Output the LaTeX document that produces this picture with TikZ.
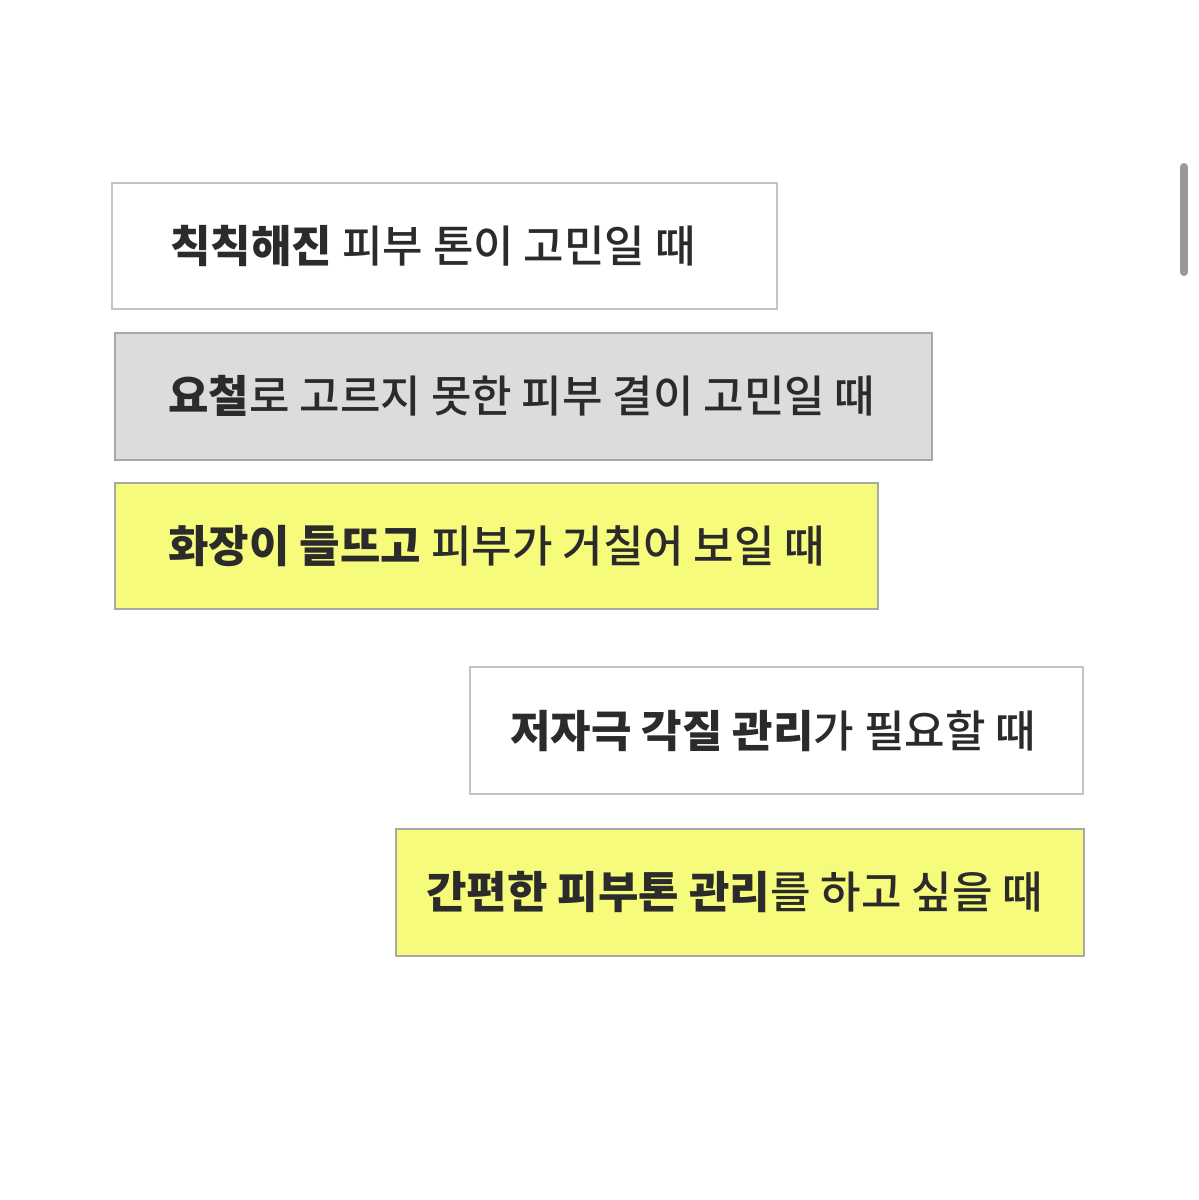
\documentclass[tikz,border=0pt]{standalone}
\usepackage{fontspec}
\newfontfamily\kr{Noto Sans CJK KR Medium}
\newfontfamily\krb{Noto Sans CJK KR Black}
\definecolor{bord}{HTML}{C4C4C4}
\definecolor{gbox}{HTML}{DCDCDC}
\definecolor{gbord}{HTML}{A8A8A8}
\definecolor{ybox}{HTML}{F6FB7C}
\definecolor{txt}{HTML}{2B2B2B}
\begin{document}
\begin{tikzpicture}[x=0.5pt,y=-0.5pt,
  boxw/.style={draw=bord,line width=1pt,fill=white},
  boxg/.style={draw=gbord,line width=1pt,fill=gbox},
  boxy/.style={draw=gbord,line width=1pt,fill=ybox},
  lbl/.style={anchor=west,inner sep=0pt,text=txt,font=\kr\fontsize{22}{26}\selectfont}]
\useasboundingbox[fill=white] (0,0) rectangle (1199,1200);
\draw[boxw] (112,183) rectangle (777,309);
\draw[boxg] (115,333) rectangle (932,460);
\draw[boxy] (115,483) rectangle (878,609);
\draw[boxw] (470,667) rectangle (1083,794);
\draw[boxy] (396,829) rectangle (1084,956);
\node[lbl] (t1) at (170,246) {{\krb 칙칙해진} 피부 톤이 고민일 때};
\node[lbl] (t2) at (168,396) {{\krb 요철}로 고르지 못한 피부 결이 고민일 때};
\node[lbl] (t3) at (168,546) {{\krb 화장이 들뜨고} 피부가 거칠어 보일 때};
\node[lbl] (t4) at (510,731) {{\krb 저자극 각질 관리}가 필요할 때};
\node[lbl] (t5) at (426,892) {{\krb 간편한 피부톤 관리}를 하고 싶을 때};
\draw[line width=4pt,line cap=round,color=gray!80] (1184,167) -- (1184,272);
\end{tikzpicture}
\end{document}
